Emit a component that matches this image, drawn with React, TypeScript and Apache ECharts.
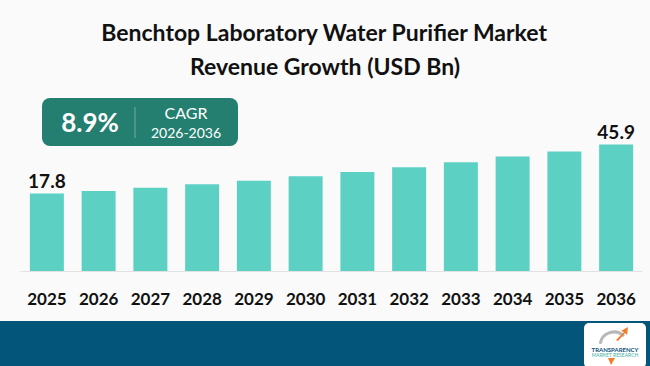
import React, { useEffect, useRef } from "react";
import * as echarts from "echarts";

const years = ["2025", "2026", "2027", "2028", "2029", "2030", "2031", "2032", "2033", "2034", "2035", "2036"];
const revenue = [17.8, 19.3, 21.2, 23.1, 25.2, 27.7, 30.2, 32.9, 35.7, 39.0, 42.0, 45.9];
const labelledIndices = [0, 11];
const titleLines = ["Benchtop Laboratory Water Purifier Market", "Revenue Growth (USD Bn)"];
const cagrValue = "8.9%";
const cagrLabel = "CAGR";
const cagrPeriod = "2026-2036";

export default function App() {
  const ref = useRef<HTMLDivElement>(null);
  useEffect(() => {
    if (!ref.current) return;
    const chart = echarts.init(ref.current, null, { renderer: "svg" });
    const font = "Lato, 'Open Sans', sans-serif";
    const axisMin = -26.6;
    chart.setOption({
      animation: false,
      backgroundColor: "#fafafa",
      grid: { left: 21, right: 8, top: 60, bottom: 95 },
      xAxis: {
        type: "category",
        data: years,
        axisLine: { show: true, onZero: false, lineStyle: { color: "#e2e2e2", width: 1 } },
        axisTick: { show: false },
        axisLabel: { color: "#111", fontWeight: "bold", fontSize: 17, fontFamily: font, margin: 19 },
      },
      yAxis: {
        type: "value",
        min: axisMin,
        max: 94.4,
        startValue: axisMin,
        show: false,
        splitLine: { show: false },
      },
      series: [
        {
          type: "bar",
          barWidth: 34,
          itemStyle: { color: "#5dd0c4" },
          data: revenue.map((v, i) => ({
            value: v,
            label: {
              show: labelledIndices.includes(i),
              position: "top",
              distance: 4,
              color: "#111",
              fontWeight: "bold",
              fontSize: 19,
              fontFamily: font,
              formatter: (p: any) => p.value.toFixed(1),
            },
          })),
        },
      ],
      graphic: [
        {
          type: "text",
          left: "center",
          top: 20,
          style: { text: titleLines[0], font: `bold 23px ${font}`, fill: "#111" },
        },
        {
          type: "text",
          left: "center",
          top: 54,
          style: { text: titleLines[1], font: `bold 23px ${font}`, fill: "#111" },
        },
        {
          type: "rect",
          shape: { x: 42, y: 98, width: 196, height: 48, r: 8 },
          style: { fill: "#247f71" },
        },
        {
          type: "text",
          x: 90,
          y: 122,
          style: { text: cagrValue, font: `bold 26px ${font}`, fill: "#fff", align: "center", verticalAlign: "middle" },
        },
        {
          type: "line",
          shape: { x1: 135, y1: 107, x2: 135, y2: 138 },
          style: { stroke: "#6fb0a5", lineWidth: 1 },
        },
        {
          type: "text",
          x: 186,
          y: 112,
          style: { text: cagrLabel, font: `16px ${font}`, fill: "#fff", align: "center", verticalAlign: "middle" },
        },
        {
          type: "text",
          x: 186,
          y: 132,
          style: { text: cagrPeriod, font: `14px ${font}`, fill: "#fff", align: "center", verticalAlign: "middle" },
        },
        {
          type: "rect",
          shape: { x: 0, y: 321, width: 650, height: 45 },
          style: { fill: "#04557a" },
        },
        {
          type: "rect",
          shape: { x: 584, y: 323, width: 62, height: 45, r: 5 },
          style: { fill: "#ffffff" },
        },
        {
          type: "arc",
          shape: { cx: 614, cy: 346, r: 14, startAngle: Math.PI * 1.05, endAngle: Math.PI * 1.75 },
          style: { stroke: "#b8b8b8", lineWidth: 3, fill: "none" },
        },
        {
          type: "polygon",
          shape: { points: [[616, 340], [624, 332], [621, 331], [628, 327], [627, 335], [625, 333], [618, 341]] },
          style: { fill: "#f47b2a" },
        },
        {
          type: "polygon",
          shape: { points: [[608, 358], [615, 358], [611, 365]] },
          style: { fill: "#f47b2a" },
        },
        {
          type: "text",
          x: 615,
          y: 349,
          style: { text: "TRANSPARENCY", font: `bold 6px ${font}`, fill: "#0b4f79", align: "center", verticalAlign: "middle" },
        },
        {
          type: "text",
          x: 615,
          y: 355,
          style: { text: "MARKET RESEARCH", font: `5px ${font}`, fill: "#3fb0a0", align: "center", verticalAlign: "middle" },
        },
      ],
    });
    return () => chart.dispose();
  }, []);
  return <div ref={ref} style={{ width: 650, height: 366, position: "fixed", left: 0, top: 0 }} />;
}
